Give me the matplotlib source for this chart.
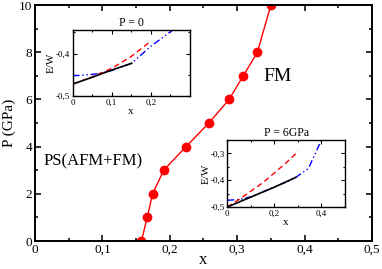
import matplotlib
matplotlib.use('Agg')
import matplotlib.pyplot as plt
from matplotlib.ticker import MultipleLocator, FixedLocator, FuncFormatter

plt.rcParams['font.family'] = ['Liberation Serif', 'DejaVu Serif']

# phase boundary
x_pts = [0.158, 0.1665, 0.1745, 0.191, 0.224, 0.258, 0.288, 0.309, 0.330, 0.350]
p_pts = [0, 1, 2, 3, 4, 5, 6, 7, 8, 10]

# inset P = 0
in1_black_x = [0, 0.05, 0.1, 0.151]
in1_black_y = [-0.472, -0.456, -0.439, -0.423]
in1_red_x = [0, 0.05, 0.1, 0.15, 0.2]
in1_red_y = [-0.472, -0.455, -0.435, -0.407, -0.371]
in1_blue_x = [0, 0.03, 0.06, 0.1, 0.151, 0.2, 0.256]
in1_blue_y = [-0.452, -0.451, -0.448, -0.440, -0.423, -0.383, -0.345]

# inset P = 6GPa
in2_black_x = [0, 0.1, 0.2, 0.292]
in2_black_y = [-0.5, -0.463, -0.426, -0.389]
in2_red_x = [0, 0.05, 0.1, 0.15, 0.2, 0.25, 0.302]
in2_red_y = [-0.5, -0.472, -0.441, -0.41, -0.373, -0.335, -0.292]
in2_blue_x = [0, 0.05, 0.1, 0.15, 0.2, 0.25, 0.292, 0.345, 0.40]
in2_blue_y = [-0.475, -0.472, -0.462, -0.444, -0.425, -0.407, -0.389, -0.356, -0.25]


def comma(v, pos):
    if abs(v) < 1e-9:
        return '0'
    s = ('%.1f' % v).replace('.', ',')
    return s


def comma_y(v, pos):
    return ('%.1f' % v).replace('.', ',')


def style(ax, lw, ticklen, fs):
    for s in ax.spines.values():
        s.set_linewidth(lw)
    ax.tick_params(which='both', direction='in', top=True, right=True,
                   labelsize=fs, width=lw * 0.8, pad=2)
    ax.tick_params(which='major', length=ticklen)
    ax.tick_params(which='minor', length=ticklen * 0.6)


fig = plt.figure(figsize=(3.82, 2.69), dpi=100)

ax = fig.add_axes([0.0916, 0.104, 0.882, 0.877])
ax.plot(x_pts, p_pts, '-o', color='red', lw=1.0, markersize=6)
ax.set_xlim(0, 0.5)
ax.set_ylim(0, 10)
ax.xaxis.set_major_locator(MultipleLocator(0.1))
ax.xaxis.set_minor_locator(MultipleLocator(0.05))
ax.yaxis.set_major_locator(MultipleLocator(2))
ax.yaxis.set_minor_locator(MultipleLocator(1))
ax.xaxis.set_major_formatter(FuncFormatter(comma))
style(ax, 1.4, 4, 9.5)
ax.set_xlabel('x', fontsize=12, labelpad=-3)
ax.set_ylabel('P (GPa)', fontsize=11, labelpad=2)
ax.text(0.339, 6.8, 'FM', fontsize=14)
ax.text(0.012, 3.2, 'PS(AFM+FM)', fontsize=12)

# inset 1
a1 = fig.add_axes([0.190, 0.643, 0.307, 0.245])
a1.plot(in1_blue_x, in1_blue_y, color='blue', lw=1.0, ls=(0, (5, 2, 1, 2, 1, 2)))
a1.plot(in1_red_x, in1_red_y, color='red', lw=1.0, ls=(0, (4, 2.5)))
a1.plot(in1_black_x, in1_black_y, color='black', lw=1.2)
a1.set_xlim(0, 0.3)
a1.set_ylim(-0.5, -0.345)
a1.xaxis.set_major_locator(FixedLocator([0, 0.1, 0.2]))
a1.xaxis.set_minor_locator(FixedLocator([0.05, 0.15, 0.25]))
a1.yaxis.set_major_locator(MultipleLocator(0.1))
a1.yaxis.set_minor_locator(MultipleLocator(0.05))
a1.xaxis.set_major_formatter(FuncFormatter(comma))
a1.yaxis.set_major_formatter(FuncFormatter(comma_y))
style(a1, 1.0, 3, 6.5)
a1.set_xlabel('x', fontsize=8, labelpad=0)
a1.set_ylabel('E/W', fontsize=8, labelpad=0)
a1.set_title('P = 0', fontsize=8.5, pad=3)

# inset 2
a2 = fig.add_axes([0.595, 0.2305, 0.308, 0.249])
a2.plot(in2_blue_x, in2_blue_y, color='blue', lw=1.0, ls=(0, (5, 2, 1, 2, 1, 2)))
a2.plot(in2_red_x, in2_red_y, color='red', lw=1.0, ls=(0, (4, 2.5)))
a2.plot(in2_black_x, in2_black_y, color='black', lw=1.2)
a2.set_xlim(0, 0.5)
a2.set_ylim(-0.5, -0.25)
a2.xaxis.set_major_locator(MultipleLocator(0.2))
a2.xaxis.set_minor_locator(MultipleLocator(0.1))
a2.yaxis.set_major_locator(MultipleLocator(0.1))
a2.yaxis.set_minor_locator(MultipleLocator(0.05))
a2.xaxis.set_major_formatter(FuncFormatter(comma))
a2.yaxis.set_major_formatter(FuncFormatter(comma_y))
style(a2, 1.0, 3, 6.5)
a2.set_xlabel('x', fontsize=8, labelpad=0)
a2.set_ylabel('E/W', fontsize=8, labelpad=0)
a2.set_title('P = 6GPa', fontsize=8.5, pad=3)

fig.savefig('out.png', dpi=100)
